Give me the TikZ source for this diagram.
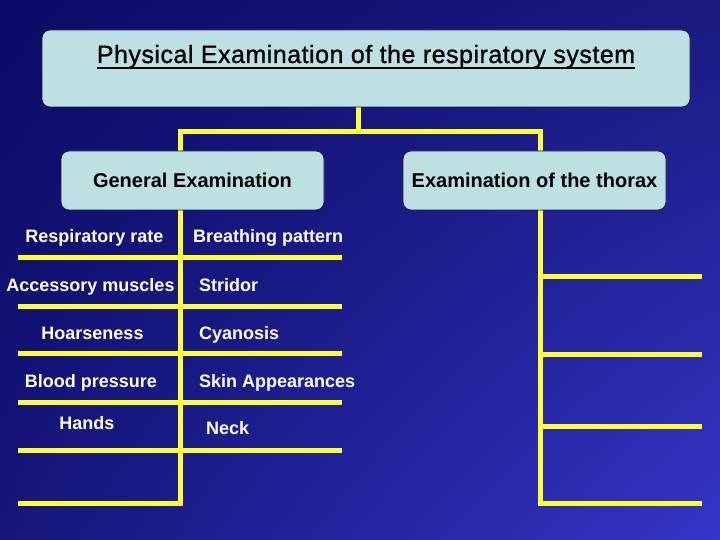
\documentclass[tikz,border=0pt]{standalone}
\usepackage{fontspec}
\setmainfont{Liberation Sans}
\usetikzlibrary{positioning,backgrounds,shadings}
\definecolor{rsnavy}{HTML}{0A0A66}
\definecolor{rsnavyb}{HTML}{1A1A80}
\definecolor{rsnavyc}{HTML}{15157A}
\definecolor{rsblue}{HTML}{3535C8}
\definecolor{rsbox}{HTML}{BDE0E3}
\definecolor{rsedge}{HTML}{1A1A40}
\definecolor{rsyellow}{HTML}{FFFF33}
\pgfdeclarelayer{wires}
\pgfsetlayers{background,wires,main}

\begin{document}
\begin{tikzpicture}[x=1pt, y=-1pt,
    panel/.style={draw=rsedge, fill=rsbox, rounded corners=8pt, line width=0.8pt, inner sep=0pt},
    wire/.style={draw=rsyellow, line width=5pt, line join=miter},
    boxfont/.style={font=\bfseries\fontsize{20}{24}\selectfont, text=black},
    item/.style={font=\bfseries\fontsize{18}{22}\selectfont, text=white, inner sep=0pt},
    leftitem/.style={item, anchor=base},
    rightitem/.style={item, anchor=base west}]
  \useasboundingbox (0,0) rectangle (720,540);

  % Background
  \begin{pgfonlayer}{background}
    \shade[upper left=rsnavy, upper right=rsnavyb, lower left=rsnavyc, lower right=rsblue]
      (0,0) rectangle (720,540);
  \end{pgfonlayer}

  % Title box
  \node[panel, minimum width=648pt, minimum height=77pt] (title) at (366,68.5) {};
  \node[font=\fontsize{25}{29}\selectfont\addfontfeatures{LetterSpace=2,FakeBold=1}, anchor=base, inner sep=0pt] (heading) at (366,63)
    {Physical Examination of the respiratory system};
  \draw[line width=1.6pt] ([yshift=-5pt]heading.base west) -- ([yshift=-5pt]heading.base east);

  % Branch boxes
  \node[panel, boxfont, minimum width=263pt, minimum height=59pt] (general) at (192.5,180.5) {General Examination};
  \node[panel, boxfont, minimum width=263pt, minimum height=59pt] (thorax) at (534.5,180.5) {Examination of the thorax};

  % Spine coordinates
  \coordinate (split) at (358,132);
  \coordinate (lspine) at (180,132);
  \coordinate (rspine) at (540,132);
  \coordinate (lend) at (18,503);
  \coordinate (rend) at (702,503);

  % Yellow lines
  \begin{pgfonlayer}{wires}
    \draw[wire] (title.south -| split) -- (split);
    \draw[wire] (lend) -| (lspine) -- (rspine) |- (rend);
    \foreach \y in {257,306,353,402,450}
      \draw[wire] (18,\y) -- (342,\y);
    \foreach \y in {276,354,426}
      \draw[wire] (540,\y) -- (702,\y);
  \end{pgfonlayer}

  % General examination items
  \node[leftitem] (rate) at (94.5,243) {Respiratory rate};
  \node[leftitem] (muscles) at (90.5,291) {Accessory muscles};
  \node[leftitem] (hoarse) at (92.5,339) {Hoarseness};
  \node[leftitem] (bp) at (91,387) {Blood pressure};
  \node[leftitem] (hands) at (87,429) {Hands};

  \node[rightitem] (breathing) at (193,243) {Breathing pattern};
  \node[rightitem] (stridor) at (199,291) {Stridor};
  \node[rightitem] (cyanosis) at (199,339) {Cyanosis};
  \node[rightitem] (skin) at (199,387) {Skin Appearances};
  \node[rightitem] (neck) at (206,434) {Neck};
\end{tikzpicture}
\end{document}
